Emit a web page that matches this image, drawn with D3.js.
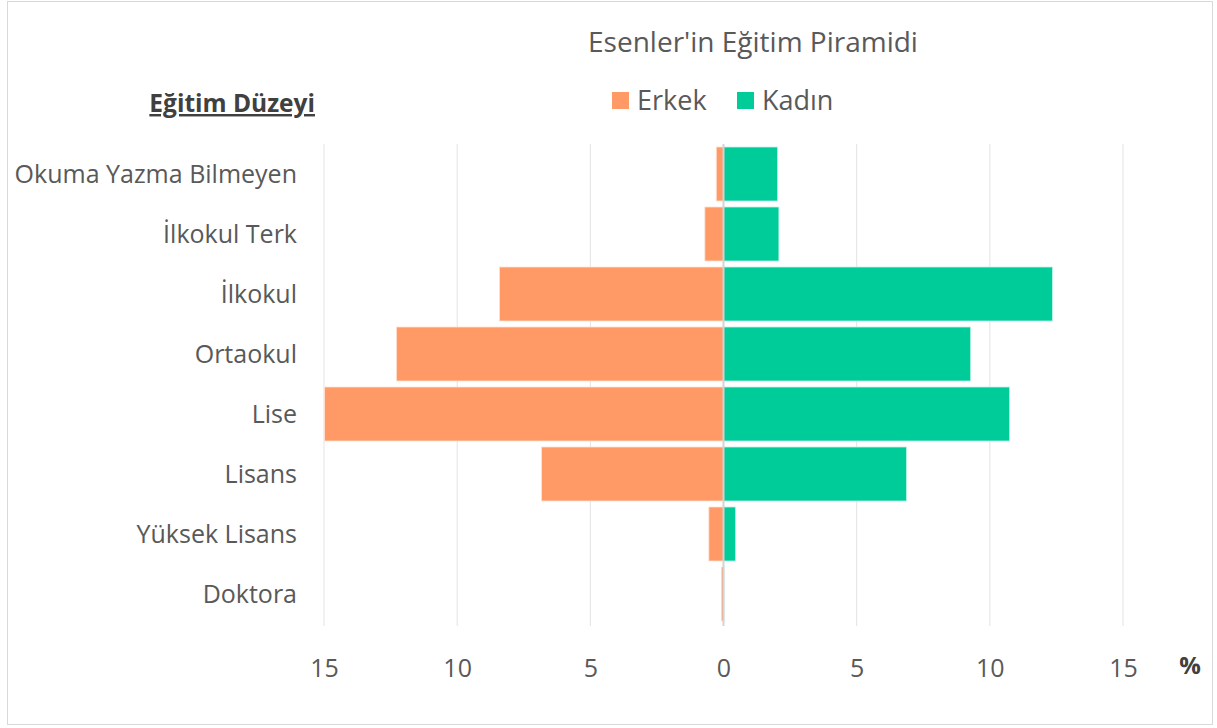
<!DOCTYPE html>
<html>
<head>
<meta charset="utf-8">
<script src="https://cdn.jsdelivr.net/npm/d3@7"></script>
<style>
    body { margin: 0; background: #fff; }
    text { font-family: "Open Sans", Lato, sans-serif; }
</style>
</head>
<body>
<div class="chart"></div>
<script>
// egitim duzeyleri (yukaridan asagiya)
var categories = ["Okuma Yazma Bilmeyen", "İlkokul Terk", "İlkokul", "Ortaokul", "Lise", "Lisans", "Yüksek Lisans", "Doktora"];
// yuzde degerler
var erkek = [0.27, 0.70, 8.41, 12.28, 14.98, 6.83, 0.55, 0.08];
var kadin = [2.03, 2.08, 12.35, 9.28, 10.74, 6.87, 0.45, 0.02];
var tickValues = [-15, -10, -5, 0, 5, 10, 15];

var W = 1217, H = 728;
var plot = { left: 324, right: 1123, top: 144, bottom: 624 };

var colors = { erkek: "#FF9966", kadin: "#00CC99" };

var svg = d3.select(".chart").append("svg")
    .attr("width", W)
    .attr("height", H);

// dis cerceve
svg.append("rect")
    .attr("x", 7.5).attr("y", 1.5)
    .attr("width", 1205).attr("height", 723)
    .attr("fill", "#fff")
    .attr("stroke", "#d9d9d9");

var x = d3.scaleLinear()
    .domain([-15, 15])
    .range([plot.left, plot.right]);

var y = d3.scaleBand()
    .domain(categories)
    .range([plot.top, plot.bottom])
    .paddingInner(0.1)
    .paddingOuter(0.05);

// grid
svg.append("g")
    .selectAll("line")
    .data(tickValues.filter(function(d) { return d !== 0; }))
    .enter().append("line")
    .attr("x1", function(d) { return x(d); })
    .attr("x2", function(d) { return x(d); })
    .attr("y1", plot.top)
    .attr("y2", plot.bottom + 2)
    .attr("stroke", "#e3e3e3")
    .attr("stroke-width", 1);

// barlar
var rows = categories.map(function(c, i) {
    return { cat: c, erkek: erkek[i], kadin: kadin[i] };
});

svg.append("g").selectAll("rect")
    .data(rows)
    .enter().append("rect")
    .attr("x", function(d) { return x(-d.erkek); })
    .attr("y", function(d) { return y(d.cat); })
    .attr("width", function(d) { return x(0) - x(-d.erkek); })
    .attr("height", y.bandwidth())
    .attr("fill", colors.erkek)
    .attr("stroke", "#ffe0d0")
    .attr("stroke-width", 0.8);

svg.append("g").selectAll("rect")
    .data(rows)
    .enter().append("rect")
    .attr("x", x(0))
    .attr("y", function(d) { return y(d.cat); })
    .attr("width", function(d) { return x(d.kadin) - x(0); })
    .attr("height", y.bandwidth())
    .attr("fill", colors.kadin)
    .attr("stroke", "#bff2e5")
    .attr("stroke-width", 0.8);

// sifir cizgisi
svg.append("line")
    .attr("x1", x(0)).attr("x2", x(0))
    .attr("y1", plot.top).attr("y2", plot.bottom + 2)
    .attr("stroke", "#d4d4d4")
    .attr("stroke-width", 2);

// x ekseni
var xAxis = d3.axisBottom(x)
    .tickValues(tickValues)
    .tickSize(0)
    .tickPadding(0)
    .tickFormat(function(d) { return Math.abs(d); });

svg.append("g")
    .attr("transform", "translate(0," + (plot.bottom + 53) + ")")
    .call(xAxis)
    .call(function(g) { g.select(".domain").remove(); })
    .selectAll("text")
    .attr("dy", 0)
    .style("font-family", "'Open Sans', sans-serif")
    .style("font-size", "25px")
    .style("fill", "#595959");

svg.append("text")
    .attr("x", 1190)
    .attr("y", 674)
    .attr("text-anchor", "middle")
    .style("font-size", "24px")
    .style("font-weight", "bold")
    .style("fill", "#404040")
    .text("%");

// y etiketleri
svg.append("g").selectAll("text")
    .data(categories)
    .enter().append("text")
    .attr("x", 297)
    .attr("y", function(d) { return y(d) + y.bandwidth() / 2; })
    .attr("dy", "0.35em")
    .attr("text-anchor", "end")
    .style("font-size", "25px")
    .style("fill", "#595959")
    .text(function(d) { return d; });

svg.append("text")
    .attr("x", 315)
    .attr("y", 112)
    .attr("text-anchor", "end")
    .style("font-size", "24.5px")
    .style("font-weight", "bold")
    .style("fill", "#404040")
    .style("text-decoration", "underline")
    .text("Eğitim Düzeyi");

// baslik
svg.append("text")
    .attr("x", 753)
    .attr("y", 52)
    .attr("text-anchor", "middle")
    .style("font-size", "28px")
    .style("fill", "#595959")
    .text("Esenler'in Eğitim Piramidi");

// legend
var legendItems = [
    { name: "Erkek", color: colors.erkek, x: 612 },
    { name: "Kadın", color: colors.kadin, x: 737 }
];

var legend = svg.selectAll(".legend")
    .data(legendItems)
    .enter().append("g")
    .attr("class", "legend")
    .attr("transform", function(d) { return "translate(" + d.x + ",92)"; });

legend.append("rect")
    .attr("width", 17)
    .attr("height", 17)
    .attr("fill", function(d) { return d.color; });

legend.append("text")
    .attr("x", 25)
    .attr("y", 18)
    .style("font-size", "27px")
    .style("fill", "#595959")
    .text(function(d) { return d.name; });
</script>
</body>
</html>
